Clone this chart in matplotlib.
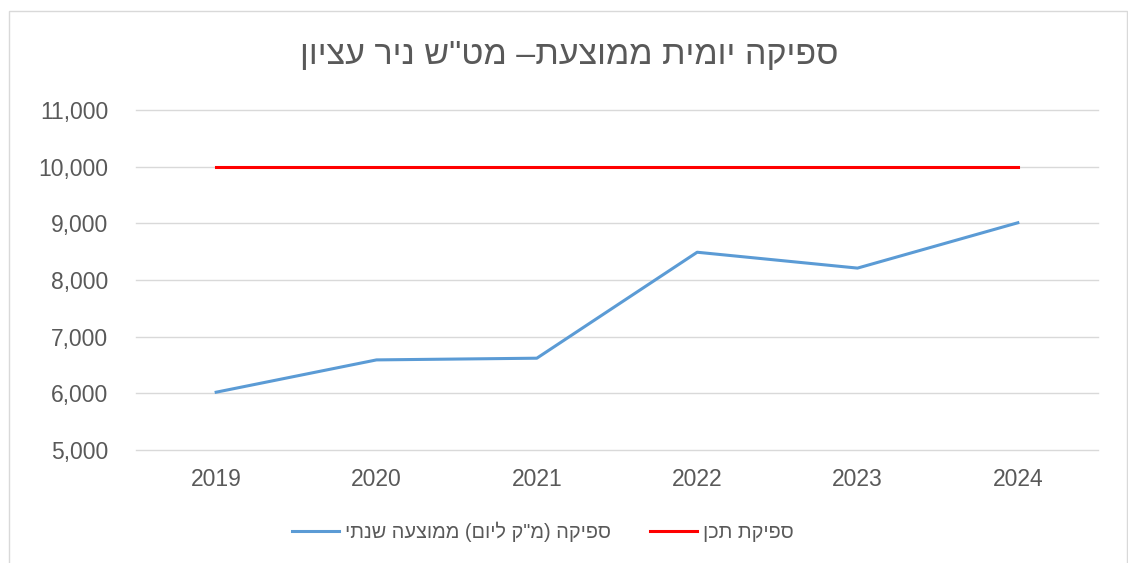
import matplotlib
matplotlib.use('Agg')
import matplotlib.pyplot as plt
from matplotlib.patches import Rectangle
from matplotlib.ticker import FuncFormatter

plt.rcParams['font.family'] = ['Liberation Sans', 'DejaVu Sans']

years = ['2019', '2020', '2021', '2022', '2023', '2024']
flow_avg = [6020, 6590, 6620, 8490, 8210, 9010]
design_flow = [10000, 10000, 10000, 10000, 10000, 10000]

title_txt = 'ספיקה יומית ממוצעת– מט"ש ניר עציון'
label_avg = 'ספיקה (מ"ק ליום) ממוצעה שנתי'
label_design = 'ספיקת תכן'


def rtl(s):
    # matplotlib draws left to right, so flip the hebrew text by hand
    swap = {'(': ')', ')': '('}
    return ''.join(swap.get(c, c) for c in reversed(s))


grey = '#595959'
fig = plt.figure(figsize=(11.28, 5.63), dpi=100)
ax = fig.add_axes([136/1128, 1-450/563, (1098-136)/1128, (450-110)/563])

x = list(range(len(years)))
ax.plot(x, flow_avg, color='#5B9BD5', lw=2.2, label=rtl(label_avg))
ax.plot(x, design_flow, color='#FF0000', lw=2.2, label=rtl(label_design))

ax.set_xlim(-0.5, len(years) - 0.5)
ax.set_ylim(5000, 11000)
ax.set_yticks(range(5000, 11001, 1000))
ax.yaxis.set_major_formatter(FuncFormatter(lambda v, p: f'{int(v):,}'))
ax.set_xticks(x)
ax.set_xticklabels(years)
ax.tick_params(axis='both', length=0, labelsize=16.5, labelcolor=grey)
ax.tick_params(axis='y', pad=20)
ax.tick_params(axis='x', pad=13)
ax.grid(axis='y', color='#D9D9D9', lw=1)
for gl in ax.get_ygridlines():
    gl.set_clip_on(False)
ax.set_axisbelow(True)
for s in ax.spines.values():
    s.set_visible(False)

fig.text(569/1128, 1-55/563, rtl(title_txt), ha='center', va='center',
         fontsize=24.5, color=grey)

fig.legend(loc='center', bbox_to_anchor=(543/1128, 1-532/563), ncol=2,
           frameon=False, fontsize=14.3, labelcolor=grey,
           handlelength=2.35, handletextpad=0.3, columnspacing=2.0)

fig.patches.append(Rectangle((9/1128, -0.1), (1127-9)/1128, 1.1-11/563,
                             transform=fig.transFigure, fill=False,
                             edgecolor='#D9D9D9', lw=1))

fig.savefig('out.png', dpi=100)
